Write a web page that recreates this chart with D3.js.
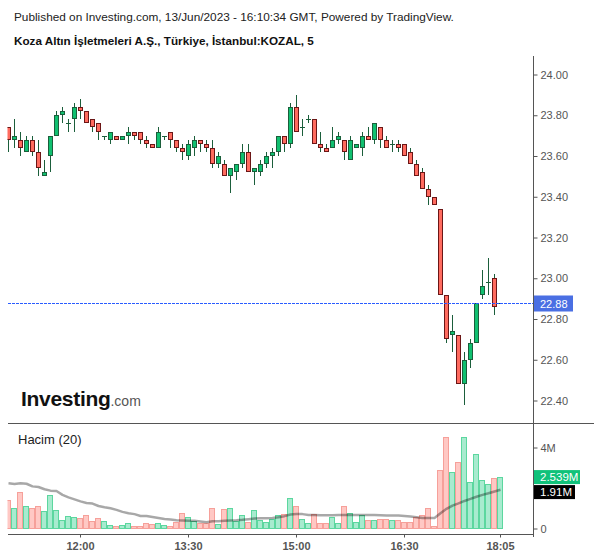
<!DOCTYPE html>
<html><head><meta charset="utf-8">
<script src="https://cdn.jsdelivr.net/npm/d3@7"></script>
<style>
body{margin:0;background:#fff;}
svg{display:block;font-family:"Liberation Sans",Arial,sans-serif;}
</style></head><body>
<svg id="c" width="600" height="558"></svg>
<script>
// ---- data (5-minute bars) ----
const open = [23.74,23.68,23.68,23.62,23.68,23.62,23.50,23.60,23.70,23.80,
  23.76,23.78,23.84,23.82,23.78,23.76,23.70,23.68,23.70,23.68,
  23.70,23.72,23.72,23.68,23.66,23.64,23.70,23.72,23.68,23.64,
  23.60,23.64,23.68,23.66,23.64,23.56,23.56,23.50,23.52,23.56,
  23.62,23.52,23.52,23.56,23.60,23.62,23.70,23.66,23.84,23.74,
  23.78,23.78,23.66,23.64,23.64,23.68,23.68,23.58,23.64,23.64,
  23.70,23.68,23.74,23.68,23.66,23.66,23.66,23.62,23.56,23.52,
  23.44,23.40,23.34,22.92,22.72,22.72,22.48,22.60,22.68,22.92,
  22.98,23.00,22.88];
const high = [23.74,23.78,23.72,23.70,23.70,23.68,23.58,23.70,23.82,23.84,
  23.78,23.86,23.88,23.82,23.78,23.76,23.70,23.72,23.70,23.70,
  23.74,23.72,23.72,23.70,23.66,23.74,23.70,23.72,23.68,23.66,
  23.68,23.70,23.68,23.68,23.68,23.62,23.58,23.54,23.56,23.66,
  23.66,23.54,23.58,23.62,23.64,23.70,23.70,23.86,23.90,23.78,
  23.80,23.78,23.72,23.66,23.74,23.72,23.68,23.70,23.66,23.72,
  23.74,23.76,23.74,23.70,23.68,23.68,23.66,23.64,23.58,23.54,
  23.46,23.40,23.34,22.92,22.82,22.72,22.64,22.70,22.88,23.04,
  23.10,23.02,22.88];
const low = [23.62,23.64,23.60,23.62,23.60,23.50,23.50,23.52,23.70,23.76,
  23.72,23.72,23.78,23.76,23.72,23.68,23.68,23.66,23.68,23.68,
  23.66,23.68,23.66,23.64,23.64,23.64,23.68,23.64,23.62,23.58,
  23.58,23.60,23.62,23.62,23.54,23.54,23.50,23.42,23.48,23.54,
  23.52,23.46,23.50,23.54,23.54,23.60,23.62,23.64,23.72,23.70,
  23.76,23.66,23.62,23.62,23.64,23.66,23.58,23.58,23.64,23.60,
  23.68,23.66,23.64,23.64,23.62,23.62,23.60,23.56,23.50,23.44,
  23.36,23.36,22.92,22.68,22.64,22.48,22.38,22.56,22.68,22.90,
  22.92,22.82,22.88];
const close = [23.68,23.70,23.64,23.68,23.62,23.54,23.52,23.70,23.80,23.82,
  23.76,23.84,23.82,23.76,23.74,23.72,23.70,23.72,23.68,23.70,
  23.72,23.70,23.68,23.66,23.64,23.72,23.70,23.68,23.64,23.62,
  23.66,23.68,23.66,23.64,23.56,23.60,23.50,23.54,23.56,23.62,
  23.52,23.54,23.56,23.60,23.62,23.70,23.66,23.84,23.72,23.74,
  23.78,23.66,23.64,23.62,23.68,23.70,23.62,23.68,23.66,23.70,
  23.68,23.76,23.68,23.64,23.66,23.64,23.60,23.56,23.50,23.44,
  23.40,23.36,22.92,22.70,22.74,22.48,22.60,22.68,22.88,22.96,
  22.98,22.86,22.88];
// volume in millions
const volume = [1.40,1.00,1.79,1.10,1.00,1.10,0.84,1.64,0.89,0.44,
  0.61,0.56,0.51,0.66,0.36,0.51,0.36,0.17,0.12,0.18,
  0.26,0.12,0.12,0.26,0.23,0.26,0.18,0.12,0.31,0.76,
  0.56,0.36,0.26,0.26,1.00,0.21,0.95,1.00,0.36,0.66,
  0.31,0.90,0.41,0.31,0.46,0.66,0.71,1.49,1.10,0.46,
  0.26,0.71,0.26,0.26,0.56,0.26,1.10,0.76,0.31,0.66,
  0.41,0.41,0.46,0.46,0.41,0.41,0.31,0.31,0.56,0.66,
  1.00,0.12,2.88,4.54,2.77,3.26,4.54,2.28,3.66,2.38,
  2.18,2.48,2.539];
// 20-period volume moving average (millions)
const volumeMA = [2.23,2.20,2.24,2.21,2.08,2.05,1.94,1.87,1.85,1.66,
  1.54,1.44,1.34,1.26,1.23,1.11,1.05,1.00,0.92,0.82,
  0.75,0.71,0.62,0.62,0.57,0.52,0.47,0.44,0.41,0.40,
  0.38,0.38,0.35,0.31,0.36,0.36,0.38,0.40,0.41,0.43,
  0.46,0.49,0.51,0.51,0.52,0.56,0.61,0.69,0.72,0.71,
  0.67,0.67,0.66,0.66,0.66,0.67,0.67,0.67,0.67,0.67,
  0.67,0.67,0.66,0.64,0.64,0.64,0.62,0.59,0.56,0.52,
  0.52,0.52,0.75,0.97,1.13,1.24,1.36,1.46,1.57,1.66,
  1.74,1.83,1.91];
const priceTicks = [22.4,22.6,22.8,23.0,23.2,23.4,23.6,23.8,24.0];
const volumeTicks = [0,4];
const timeTickIndex = [12,30,48,66,82];
const timeTickLabels = ["12:00","13:30","15:00","16:30","18:05"];
const lastPrice = 22.88;
const lastVolumeText = "2.539M";
const maText = "1.91M";
const titleLine1 = "Published on Investing.com, 13/Jun/2023 - 16:10:34 GMT, Powered by TradingView.";
const titleLine2 = "Koza Altın İşletmeleri A.Ş., Türkiye, İstanbul:KOZAL, 5";
const volumeTitle = "Hacim (20)";

// ---- drawing ----
const svg = d3.select("#c");
const n = close.length;
const idx = d3.range(n);
const PL = 7.5, PR = 533, PT = 56, PB = 423, VB = 534;

const x = d3.scaleBand().domain(idx).range([5.5, 5.5 + 6 * n]).padding(0);
const cx = i => x(i) + x.bandwidth() / 2;
const yP = d3.scaleLinear().domain([22.4, 24]).range([400.5, 74.5]);
const yV = d3.scaleLinear().domain([0, 4]).range([528.5, 447.5]);

const defs = svg.append("defs");
defs.append("clipPath").attr("id", "clipP").append("rect")
  .attr("x", PL).attr("y", PT).attr("width", PR - PL).attr("height", PB - PT);
defs.append("clipPath").attr("id", "clipV").append("rect")
  .attr("x", PL).attr("y", PB + 1).attr("width", PR - PL).attr("height", VB - PB - 1);

// titles
svg.append("text").attr("x", 14).attr("y", 21).attr("font-size", "11.8px").attr("fill", "#222").text(titleLine1);
svg.append("text").attr("x", 14).attr("y", 45).attr("font-size", "11.7px").attr("font-weight", "bold").attr("fill", "#111").text(titleLine2);

// candles
const UP_FILL = "#10c070", UP_EDGE = "#1b5e3b", DN_FILL = "#ff6b5f", DN_EDGE = "#6b1616", WICK = "#1b5e3b";
const gc = svg.append("g").attr("clip-path", "url(#clipP)");
idx.forEach(i => {
  const o = open[i], c = close[i], h = high[i], l = low[i];
  const xc = cx(i);
  if (h > l) {
    gc.append("line").attr("x1", xc).attr("x2", xc)
      .attr("y1", Math.round(yP(h))).attr("y2", Math.round(yP(l)))
      .attr("stroke", WICK).attr("stroke-width", 1);
  }
  const t = Math.round(yP(Math.max(o, c))), b = Math.round(yP(Math.min(o, c)));
  if (b - t < 2) {
    gc.append("line").attr("x1", xc - 2.5).attr("x2", xc + 2.5)
      .attr("y1", t + 0.5).attr("y2", t + 0.5).attr("stroke", WICK).attr("stroke-width", 1);
  } else {
    const up = c >= o;
    gc.append("rect").attr("x", xc - 2).attr("width", 4)
      .attr("y", t + 0.5).attr("height", b - t - 1)
      .attr("fill", up ? UP_FILL : DN_FILL).attr("stroke", up ? UP_EDGE : DN_EDGE).attr("stroke-width", 1);
  }
});

// last price dotted line
const yLast = Math.round(yP(lastPrice)) + 0.5;
svg.append("line").attr("x1", 8).attr("x2", PR).attr("y1", yLast).attr("y2", yLast)
  .attr("stroke", "#2a5cff").attr("stroke-width", 1).attr("stroke-dasharray", "3,1")
  .attr("shape-rendering", "crispEdges");

// volume bars
const gv = svg.append("g").attr("clip-path", "url(#clipV)");
gv.selectAll("rect.v").data(idx).join("rect").attr("class", "v")
  .attr("x", i => x(i)).attr("width", x.bandwidth() - 1)
  .attr("y", i => Math.round(yV(volume[i])) + 0.5)
  .attr("height", i => 528.5 - (Math.round(yV(volume[i])) + 0.5))
  .attr("fill", i => close[i] >= open[i] ? "#a8ebcf" : "#ffc8c4")
  .attr("stroke", i => close[i] >= open[i] ? "#5cd79f" : "#f6a09a")
  .attr("stroke-width", 1);
gv.append("path").datum(idx)
  .attr("d", d3.line().x(i => cx(i)).y(i => yV(volumeMA[i])))
  .attr("fill", "none").attr("stroke", "rgba(0,0,0,0.34)").attr("stroke-width", 2.5)
  .attr("stroke-linejoin", "round");

// frame lines
svg.append("line").attr("x1", 8).attr("x2", 594).attr("y1", PB + 0.5).attr("y2", PB + 0.5).attr("stroke", "#555");
svg.append("line").attr("x1", 8).attr("x2", PR + 1).attr("y1", VB + 0.5).attr("y2", VB + 0.5).attr("stroke", "#555");
svg.append("line").attr("x1", PR + 0.5).attr("x2", PR + 0.5).attr("y1", PT).attr("y2", 537).attr("stroke", "#555");

// price axis
const ap = svg.append("g").attr("transform", `translate(${PR + 0.5},0)`)
  .call(d3.axisRight(yP).tickValues(priceTicks).tickFormat(d3.format(".2f")).tickSize(4).tickSizeOuter(0).tickPadding(3));
// volume axis
const av = svg.append("g").attr("transform", `translate(${PR + 0.5},0)`)
  .call(d3.axisRight(yV).tickValues(volumeTicks).tickFormat(d => d === 0 ? "0" : d + "M").tickSize(4).tickSizeOuter(0).tickPadding(3));
// time axis
const at = svg.append("g").attr("transform", `translate(0,${VB + 0.5})`)
  .call(d3.axisBottom(x).tickValues(timeTickIndex).tickFormat((d, i) => timeTickLabels[i]).tickSize(3).tickSizeOuter(0).tickPadding(5));
[ap, av, at].forEach(g => {
  g.select(".domain").remove();
  g.selectAll(".tick line").attr("stroke", "#555");
  g.selectAll(".tick text").attr("fill", "#555").attr("font-size", "11px").attr("font-family", "Liberation Sans, Arial, sans-serif");
});
at.selectAll(".tick text").attr("font-weight", "bold");

// last price label
const lp = svg.append("g").attr("transform", `translate(${PR + 1},${yLast})`);
lp.append("rect").attr("x", 0).attr("y", -8).attr("width", 39).attr("height", 16).attr("fill", "#4a6fe3");
lp.append("text").attr("x", 6).attr("y", 4).attr("fill", "#fff").attr("font-size", "11px").text(d3.format(".2f")(lastPrice));

// volume labels
const yVol = yV(volume[n - 1]);
const yMA = Math.max(yV(volumeMA[n - 1]), yVol + 15);
const lv = svg.append("g").attr("transform", `translate(${PR + 1},${yVol})`);
lv.append("rect").attr("x", 0).attr("y", -7).attr("width", 46).attr("height", 14).attr("fill", "#10c27a");
lv.append("text").attr("x", 6).attr("y", 4).attr("fill", "#fff").attr("font-size", "11.5px").text(lastVolumeText);
const lm = svg.append("g").attr("transform", `translate(${PR + 1},${yMA})`);
lm.append("rect").attr("x", 0).attr("y", -7).attr("width", 41).attr("height", 14).attr("fill", "#000");
lm.append("text").attr("x", 6).attr("y", 4).attr("fill", "#fff").attr("font-size", "11.5px").text(maText);

// volume pane title
svg.append("text").attr("x", 18).attr("y", 444).attr("font-size", "13px").attr("fill", "#222").text(volumeTitle);

// Investing logo
const logo = svg.append("text").attr("x", 21).attr("y", 406);
logo.append("tspan").attr("font-size", "21px").attr("font-weight", "bold").attr("fill", "#111").attr("letter-spacing", "-0.3").text("Investing");
logo.append("tspan").attr("font-size", "14px").attr("fill", "#555").text(".com");
</script>
</body></html>
